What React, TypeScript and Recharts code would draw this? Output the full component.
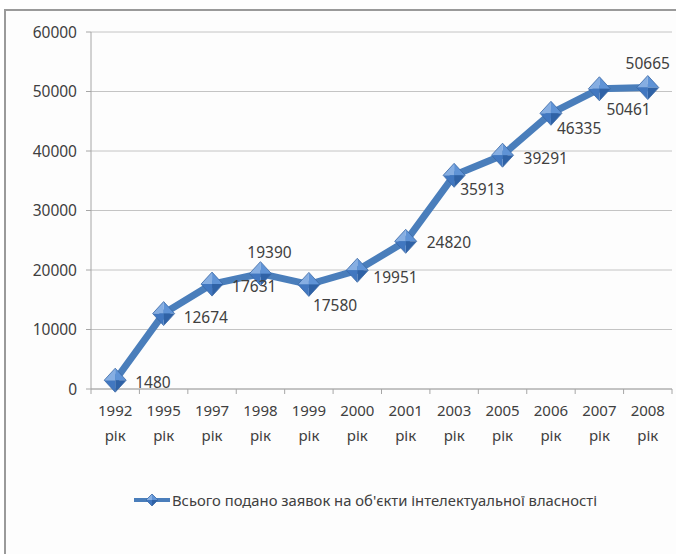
import { LineChart, Line, XAxis, YAxis, CartesianGrid, Legend, LabelList } from "recharts";

// data
const years = ["1992", "1995", "1997", "1998", "1999", "2000", "2001", "2003", "2005", "2006", "2007", "2008"];
const yearSuffix = "рік";
const applications = [1480, 12674, 17631, 19390, 17580, 19951, 24820, 35913, 39291, 46335, 50461, 50665];
const yTicks = [0, 10000, 20000, 30000, 40000, 50000, 60000];
const seriesName = "Всього подано заявок на об'єкти інтелектуальної власності";

// label placement per point (dx, dy, anchor), like Excel's hand-placed labels
const labelPlacement: Array<[number, number, "start" | "middle"]> = [
    [20, 2, "start"],
    [20, 3, "start"],
    [20, 2, "start"],
    [9, -22, "middle"],
    [4, 21, "start"],
    [16, 7, "start"],
    [21, 1, "start"],
    [6, 14, "start"],
    [21, 3, "start"],
    [6, 15, "start"],
    [7, 20, "start"],
    [0, -25, "middle"],
];

const FONT = "'Noto Sans', 'Liberation Sans', sans-serif";
const TEXT = "#404040";
const AXIS = "#a6a6a6";
const LINE = "#4a7ebb";
const NUM_SIZE = 15.5;

const data = years.map((year, i) => ({ i, year, value: applications[i] }));

// ticks at category centres (labels) and category boundaries (tick marks)
const xTicks: number[] = [];
for (let k = 0; k <= years.length * 2; k++) xTicks.push(k / 2 - 0.5);

function Diamond({ cx, cy, w = 11, h = 12 }: { cx: number; cy: number; w?: number; h?: number }) {
    const t = `${cx},${cy - h}`;
    const r = `${cx + w},${cy}`;
    const b = `${cx},${cy + h}`;
    const l = `${cx - w},${cy}`;
    const c = `${cx},${cy}`;
    return (
        <g>
            <polygon points={`${t} ${l} ${c}`} fill="#86aee2" />
            <polygon points={`${t} ${r} ${c}`} fill="#5f93d6" />
            <polygon points={`${r} ${b} ${c}`} fill="#2f62a6" />
            <polygon points={`${b} ${l} ${c}`} fill="#4177c0" />
            <polygon points={`${t} ${r} ${b} ${l}`} fill="none" stroke="#3a68a6" strokeWidth={0.8} />
        </g>
    );
}

function renderDot(props: any) {
    const { cx, cy, index } = props;
    return <Diamond key={`dot-${index}`} cx={cx} cy={cy} />;
}

function renderLabel(props: any) {
    const { x, y, value, index } = props;
    const [dx, dy, anchor] = labelPlacement[index] || [20, 2, "start"];
    return (
        <text
            key={`lbl-${index}`}
            x={x + dx}
            y={y + dy}
            textAnchor={anchor}
            dominantBaseline="central"
            fontSize={NUM_SIZE}
            fontFamily={FONT}
            fill={TEXT}
        >
            {value}
        </text>
    );
}

function XTick(props: any) {
    const { x, y, payload } = props;
    const v = payload.value as number;
    if (!Number.isInteger(v)) {
        return <line x1={x} x2={x} y1={y} y2={y + 5} stroke={AXIS} />;
    }
    return (
        <text x={x} y={y} textAnchor="middle" fontSize={15} fontFamily={FONT} fill={TEXT}>
            <tspan x={x} dy={27}>{years[v]}</tspan>
            <tspan x={x} dy={25}>{yearSuffix}</tspan>
        </text>
    );
}

function LegendContent() {
    return (
        <div style={{ height: 40, display: "flex", alignItems: "center" }}>
            <svg width={36} height={16} style={{ marginRight: 2 }}>
                <line x1={0} x2={36} y1={8} y2={8} stroke={LINE} strokeWidth={4} />
                <Diamond cx={18} cy={8} w={6} h={6} />
            </svg>
            <span style={{ fontFamily: FONT, fontSize: 14.8, color: TEXT }}>{seriesName}</span>
        </div>
    );
}

export default function App() {
    return (
        <div style={{ position: "absolute", left: 0, top: 0, width: 676, height: 554, overflow: "hidden", background: "#fff" }}>
            <div
                style={{
                    position: "absolute",
                    left: 4,
                    top: 9,
                    width: 720,
                    height: 620,
                    border: "2px solid #9a9a9a",
                    background: "#fdfdfd",
                }}
            />
            <div style={{ position: "absolute", left: 0, top: 0 }}>
                <LineChart width={676} height={554} data={data} margin={{ top: 32, right: 4, left: 0, bottom: 34 }}>
                    <CartesianGrid vertical={false} stroke="#c4c4c4" />
                    <XAxis
                        dataKey="i"
                        type="number"
                        domain={[-0.5, years.length - 0.5]}
                        ticks={xTicks}
                        interval={0}
                        tick={<XTick />}
                        tickLine={false}
                        tickSize={0}
                        tickMargin={0}
                        axisLine={{ stroke: AXIS }}
                        height={91}
                    />
                    <YAxis
                        domain={[0, 60000]}
                        ticks={yTicks}
                        interval={0}
                        width={91}
                        tickSize={5}
                        tickMargin={9}
                        axisLine={{ stroke: AXIS }}
                        tickLine={{ stroke: AXIS }}
                        tick={{ fontSize: NUM_SIZE, fontFamily: FONT, fill: TEXT }}
                    />
                    <Legend
                        verticalAlign="bottom"
                        content={<LegendContent />}
                        wrapperStyle={{ left: 134, bottom: 34, width: "auto" }}
                    />
                    <Line
                        type="linear"
                        dataKey="value"
                        name={seriesName}
                        stroke={LINE}
                        strokeWidth={7}
                        strokeLinejoin="round"
                        dot={renderDot}
                        activeDot={false}
                        isAnimationActive={false}
                    >
                        <LabelList dataKey="value" content={renderLabel} />
                    </Line>
                </LineChart>
            </div>
        </div>
    );
}
